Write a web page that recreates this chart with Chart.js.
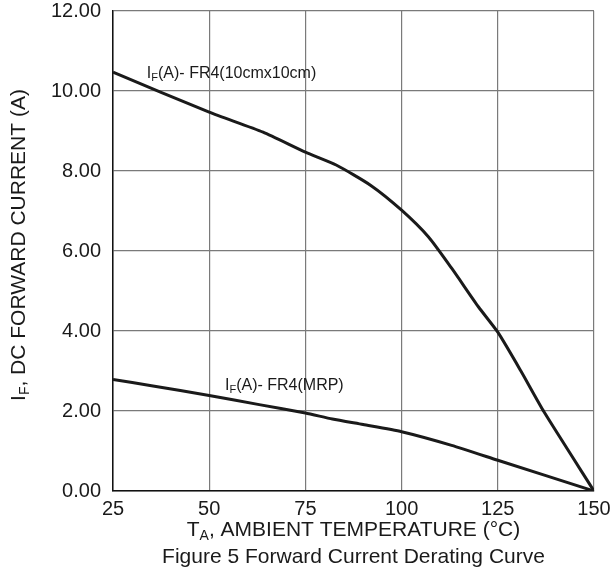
<!DOCTYPE html>
<html>
<head>
<meta charset="utf-8">
<script src="https://cdn.jsdelivr.net/npm/chart.js@4"></script>
<style>
  html, body { margin: 0; padding: 0; background: #fff; }
  #wrap { width: 610px; height: 573px; }
</style>
</head>
<body>
<div id="wrap"><canvas id="derating"></canvas></div>
<script>
// temperatures (C) and currents (A)
const tempFR4 = [25, 50, 64, 75, 83, 92, 100, 107, 113, 120, 125, 131, 137, 150];
const ampFR4 = [10.47, 9.47, 8.97, 8.47, 8.15, 7.64, 7.02, 6.35, 5.57, 4.6, 3.97, 3.0, 1.98, 0];
const tempMRP = [25, 35, 50, 63, 75, 82, 90, 100, 113, 125, 150];
const ampMRP = [2.79, 2.63, 2.39, 2.16, 1.95, 1.8, 1.66, 1.48, 1.14, 0.77, 0];
const xTicks = [25, 50, 75, 100, 125, 150];
const yTicks = [0, 2, 4, 6, 8, 10, 12];

const font = '"Liberation Sans", Arial, sans-serif';
const ink = '#1a1a1a';

function pts(xs, ys) { return xs.map((x, i) => ({ x: x, y: ys[i] })); }

// text with a subscript part: [main, sub, rest]
function subText(ctx, parts, x, y, size, align) {
  const [a, s, b] = parts;
  ctx.font = size + 'px ' + font;
  const wa = ctx.measureText(a).width, wb = ctx.measureText(b).width;
  ctx.font = Math.round(size * 0.68) + 'px ' + font;
  const ws = ctx.measureText(s).width;
  const total = wa + ws + wb;
  let x0 = align === 'center' ? x - total / 2 : x;
  ctx.textAlign = 'left';
  ctx.textBaseline = 'middle';
  ctx.font = size + 'px ' + font;
  ctx.fillText(a, x0, y);
  ctx.font = Math.round(size * 0.68) + 'px ' + font;
  ctx.fillText(s, x0 + wa, y + size * 0.3);
  ctx.font = size + 'px ' + font;
  ctx.fillText(b, x0 + wa + ws, y);
}

const labels = {
  id: 'labels',
  afterDraw(chart) {
    const ctx = chart.ctx, xs = chart.scales.x, ys = chart.scales.y;
    ctx.save();
    ctx.fillStyle = ink;
    subText(ctx, ['I', 'F', '(A)- FR4(10cmx10cm)'], xs.getPixelForValue(33.8), ys.getPixelForValue(10.44), 16, 'left');
    subText(ctx, ['I', 'F', '(A)- FR4(MRP)'], xs.getPixelForValue(54.1), ys.getPixelForValue(2.64), 16, 'left');
    const cx = (chart.chartArea.left + chart.chartArea.right) / 2;
    subText(ctx, ['T', 'A', ', AMBIENT TEMPERATURE (\u00B0C)'], cx, 530, 21, 'center');
    ctx.font = '21px ' + font;
    ctx.textAlign = 'center';
    ctx.fillText('Figure 5 Forward Current Derating Curve', cx, 557);
    ctx.translate(19, 245);
    ctx.rotate(-Math.PI / 2);
    subText(ctx, ['I', 'F', ', DC FORWARD CURRENT (A)'], 0, 0, 21, 'center');
    ctx.restore();
  }
};

function noOverflow(s) {
  s.paddingTop = 0; s.paddingBottom = 0; s.paddingLeft = 0; s.paddingRight = 0;
}

new Chart(document.getElementById('derating'), {
  type: 'line',
  data: {
    datasets: [
      { data: pts(tempFR4, ampFR4), borderColor: ink, borderWidth: 3, pointRadius: 0, tension: 0.2 },
      { data: pts(tempMRP, ampMRP), borderColor: ink, borderWidth: 3, pointRadius: 0, tension: 0.2 }
    ]
  },
  options: {
    responsive: true,
    maintainAspectRatio: false,
    animation: false,
    layout: { padding: { top: 11, right: 16, left: 0, bottom: 0 } },
    plugins: { legend: { display: false }, tooltip: { enabled: false } },
    scales: {
      x: {
        type: 'linear', min: 25, max: 150,
        afterFit: s => { s.height = 82; noOverflow(s); },
        afterBuildTicks: s => { s.ticks = xTicks.map(v => ({ value: v })); },
        grid: { color: '#7a7a7a', lineWidth: 1.2, drawTicks: false },
        border: { color: '#111', width: 1.5 },
        ticks: { color: ink, font: { family: font, size: 20 }, padding: 6 }
      },
      y: {
        min: 0, max: 12,
        afterFit: s => { s.width = 113; noOverflow(s); },
        afterBuildTicks: s => { s.ticks = yTicks.map(v => ({ value: v })); },
        grid: { color: '#7a7a7a', lineWidth: 1.2, drawTicks: false },
        border: { color: '#111', width: 1.5 },
        ticks: { color: ink, font: { family: font, size: 20 }, padding: 12, callback: v => v.toFixed(2) }
      }
    }
  },
  plugins: [labels]
});
</script>
</body>
</html>
